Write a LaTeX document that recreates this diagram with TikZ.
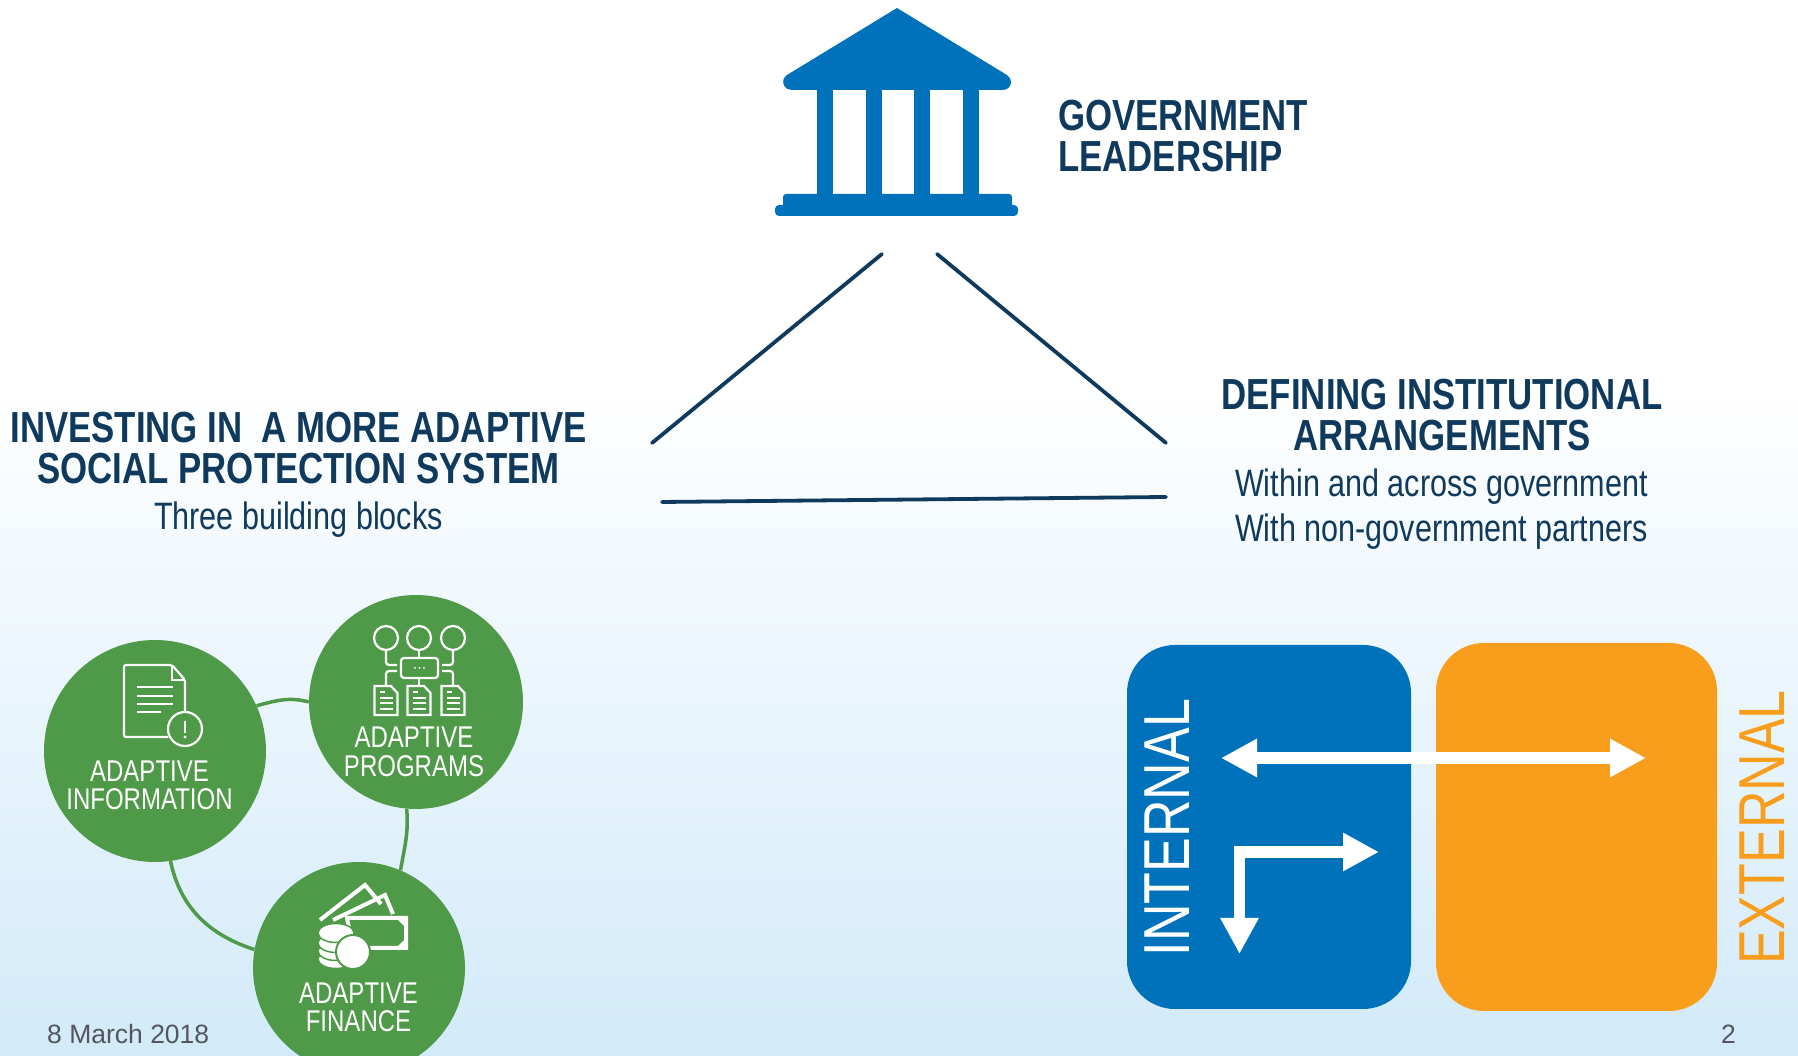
\documentclass[tikz,border=0pt]{standalone}
\usepackage{fontspec}
\usepackage{xcolor}
\usepackage{tikz}
\usetikzlibrary{arrows.meta}
\setmainfont{Liberation Sans}
\newfontfamily\narrowfont[FakeStretch=0.8]{Liberation Sans}

\definecolor{navy}{HTML}{0F3A5D}
\definecolor{bankblue}{HTML}{0072BC}
\definecolor{blockgreen}{HTML}{4F9A48}
\definecolor{partnerorange}{HTML}{F99D1C}
\definecolor{skyend}{HTML}{D2EAF9}
\definecolor{footgray}{HTML}{55555F}

\tikzset{
    heading/.style={font=\narrowfont\bfseries\fontsize{43.5}{40.5}\selectfont,text=navy,align=center,inner sep=0pt},
    subline/.style={font=\narrowfont\fontsize{38.2}{40}\selectfont,text=navy,inner sep=0pt,anchor=base},
    block/.style={shape=circle,fill=blockgreen,inner sep=0pt},
    blocklabel/.style={font=\narrowfont\fontsize{30}{28.5}\selectfont,text=white,align=center,inner sep=0pt},
    softbox/.style={shape=rectangle,rounded corners=48pt,inner sep=0pt},
    sidelabel/.style={font=\narrowfont\fontsize{65}{65}\selectfont,rotate=90,anchor=base,inner sep=0pt},
    footer/.style={text=footgray,inner sep=0pt,anchor=base,font=\fontsize{26.5}{28}\selectfont},
    triangleline/.style={line width=3.8pt,draw=navy,line cap=round},
    ring/.style={line width=3.5pt,draw=blockgreen},
    icon/.style={draw=white,line width=2.2pt},
}

\begin{document}
\begin{tikzpicture}[x=1pt,y=1pt]
            \useasboundingbox (0,0) rectangle (1798,1056);
            \clip (0,0) rectangle (1798,1056);
            \shade[top color=white,bottom color=skyend] (0,0) rectangle (1798,670);

            % government building
            \fill[bankblue] (897,1048) -- (787,981) arc[start angle=121.2,end angle=270,radius=8]
                -- (1003,966) arc[start angle=-90,end angle=58.8,radius=8] -- cycle;
            \foreach \x in {817,866,914,963} {
                \fill[bankblue] (\x,966) rectangle (\x+16,860);
            }
            \fill[bankblue,rounded corners=3pt] (783,862) rectangle (1012,848);
            \fill[bankblue,rounded corners=4pt] (775,851) rectangle (1018,840);

            \node[heading,align=left,anchor=west] (gov) at (1058,920) {GOVERNMENT\\LEADERSHIP};

            \coordinate (apexleft) at (882,802);
            \coordinate (apexright) at (937,802);
            \coordinate (footleft) at (652,613);
            \coordinate (footright) at (1166,613);
            \coordinate (baseleft) at (662,554);
            \coordinate (baseright) at (1166,559);
            \path [triangleline] (apexleft) edge (footleft);
            \path [triangleline] (apexright) edge (footright);
            \path [triangleline] (baseleft) edge (baseright);

            \node[heading] (system) at (298.5,608) {INVESTING IN\ \ A MORE ADAPTIVE\\SOCIAL PROTECTION SYSTEM};
            \node[subline] (threeblocks) at (298.5,526) {Three building blocks};

            \node[heading] (arrangements) at (1442,641) {DEFINING INSTITUTIONAL\\ARRANGEMENTS};
            \node[subline] (within) at (1441.5,559) {Within and across government};
            \node[subline] (partners) at (1441.5,514) {With non-government partners};

            % three building blocks
            \node[block,minimum size=222pt] (information) at (155,305) {};
            \node[block,minimum size=214pt] (programs) at (416,354) {};
            \node[block,minimum size=212pt] (finance) at (359,88) {};

            \path [ring] (information.24) edge [out=15,in=165] (programs.180);
            \path [ring] (programs.265) edge [out=-85,in=80] (finance.67);
            \path [ring] (information.278) edge [out=-78,in=162] (finance.170);

            \node[blocklabel] (infotext) at (149.5,270.5) {ADAPTIVE\\INFORMATION};
            \node[blocklabel] (progtext) at (414,304) {ADAPTIVE\\PROGRAMS};
            \node[blocklabel] (fintext) at (358.5,48.5) {ADAPTIVE\\FINANCE};

            % information icon
            \draw[icon,rounded corners=2pt] (185,344) -- (185,376) -- (172,391) -- (124,391) -- (124,319) -- (168,319);
            \draw[icon] (172,391) -- (172,376) -- (185,376);
            \foreach \y in {369,360,352} {
                \draw[icon] (137,\y) -- (173,\y);
            }
            \draw[icon] (137,344) -- (161,344);
            \draw[icon] (185,327) circle (17);
            \draw[icon] (185,335) -- (185,323);
            \fill[white] (185,319) circle (1.6);

            % programs icon
            \foreach \x in {386,419,453} {
                \draw[icon] (\x,418) circle (12);
                \draw[icon] (\x-11.5,341) -- (\x+11.5,341) -- (\x+11.5,363) -- (\x+5,370) -- (\x-11.5,370) -- cycle;
                \draw[icon,line width=1.6pt] (\x-6,364) -- (\x-1,364);
                \foreach \y in {358,353,347} {
                    \draw[icon,line width=1.6pt] (\x-6,\y) -- (\x+7,\y);
                }
            }
            \draw[icon,rounded corners=3pt] (401,378) rectangle (438,398);
            \foreach \x in {415,419.5,424} {
                \fill[white] (\x,388) circle (1);
            }
            \draw[icon,rounded corners=3pt] (386,406) -- (386,391) -- (397,391);
            \draw[icon,rounded corners=3pt] (453,406) -- (453,391) -- (442,391);
            \draw[icon,rounded corners=3pt] (397,385) -- (386,385) -- (386,371);
            \draw[icon,rounded corners=3pt] (442,385) -- (453,385) -- (453,371);
            \draw[icon] (419,406) -- (419,398);
            \draw[icon] (419,378) -- (419,371);

            % finance icon
            \draw[icon,line width=4pt] (320,136) -- (365,171) -- (381,152);
            \draw[icon,line width=4pt] (333,136) -- (385,161) -- (393,142);
            \draw[icon,line width=4pt] (349,128) -- (347,138) -- (406,138) -- (406,108) -- (368,108);
            \fill[white] (396,138) -- (406,138) -- (406,128) -- cycle;
            \fill[white] (396,108) -- (406,108) -- (406,118) -- cycle;
            \foreach \y in {97,105,113,123} {
                \filldraw[fill=white,draw=blockgreen,line width=1.5pt] (336,\y) ellipse (18 and 9.5);
            }
            \filldraw[fill=white,draw=blockgreen,line width=2pt] (353,104) circle (17);

            % internal and external
            \node[softbox,fill=bankblue,minimum width=284pt,minimum height=364pt] (internalbox) at (1269,229) {};
            \node[softbox,fill=partnerorange,minimum width=281pt,minimum height=368pt] (externalbox) at (1576.5,229) {};

            \node[sidelabel,text=white] (internal) at (1189,228.5) {INTERNAL};
            \node[sidelabel,text=partnerorange] (external) at (1784,228.5) {EXTERNAL};

            \coordinate (exchangeleft) at (1221,298);
            \coordinate (exchangeright) at (1646,298);
            \coordinate (elbowstart) at (1234,204);
            \coordinate (elbowright) at (1379,204);
            \coordinate (elbowtop) at (1239.5,210);
            \coordinate (elbowdown) at (1239.5,102);
            \draw[white,line width=12pt,{Triangle[length=36pt,width=36pt]}-{Triangle[length=36pt,width=36pt]}] (exchangeleft) -- (exchangeright);
            \draw[white,line width=12pt,-{Triangle[length=36pt,width=36pt]}] (elbowstart) -- (elbowright);
            \draw[white,line width=11pt,-{Triangle[length=36pt,width=36pt]}] (elbowtop) -- (elbowdown);

            \node[footer,anchor=base west] (date) at (47,12) {8 March 2018};
            \node[footer] (pagenum) at (1728.5,12) {2};
\end{tikzpicture}
\end{document}
